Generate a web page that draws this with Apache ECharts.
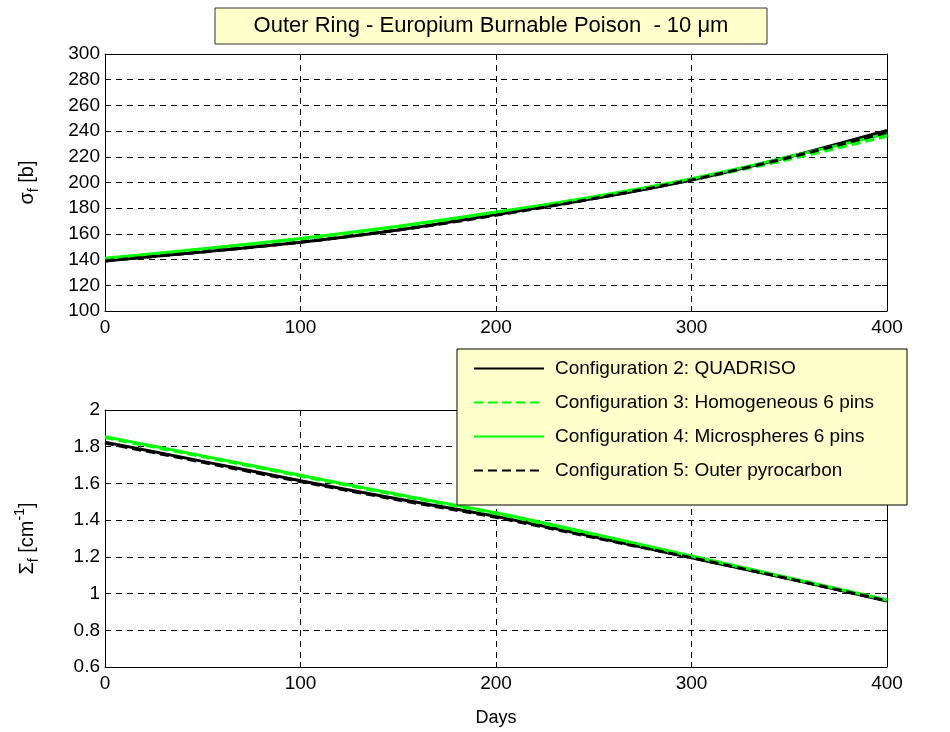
<!DOCTYPE html>
<html>
<head>
<meta charset="utf-8">
<script src="https://cdn.jsdelivr.net/npm/echarts@6/dist/echarts.min.js"></script>
<style>
html, body { margin: 0; padding: 0; background: #fff; }
#chart { width: 950px; height: 732px; }
</style>
</head>
<body>
<div id="chart"></div>
<script>
// Burnup time steps (days)
const days = [0, 50, 100, 150, 200, 250, 300, 350, 400];

// Microscopic fission cross section sigma_f [b]
const sigmaQuadriso    = [139.0, 146.0, 153.5, 163.0, 175.0, 187.5, 202.0, 220.0, 240.5];
const sigmaHomogeneous = [140.5, 148.0, 156.0, 165.5, 176.5, 188.5, 202.0, 218.0, 236.0];
const sigmaMicrosphere = [141.0, 148.5, 156.5, 166.0, 177.0, 189.0, 203.0, 220.0, 238.0];
const sigmaPyrocarbon  = [139.0, 146.0, 153.5, 163.0, 174.5, 187.5, 202.0, 219.5, 239.0];

// Macroscopic fission cross section Sigma_f [cm^-1]
const macroQuadriso    = [1.825, 1.720, 1.615, 1.515, 1.420, 1.310, 1.195, 1.080, 0.960];
const macroHomogeneous = [1.850, 1.745, 1.640, 1.535, 1.435, 1.320, 1.200, 1.085, 0.965];
const macroMicrosphere = [1.855, 1.750, 1.645, 1.540, 1.440, 1.325, 1.205, 1.085, 0.965];
const macroPyrocarbon  = [1.820, 1.715, 1.610, 1.510, 1.415, 1.305, 1.195, 1.080, 0.960];

const seriesNames = [
  'Configuration 2: QUADRISO',
  'Configuration 3: Homogeneous 6 pins',
  'Configuration 4: Microspheres 6 pins',
  'Configuration 5: Outer pyrocarbon'
];

const dayTicks = { min: 0, max: 400, interval: 100 };
const sigmaTicks = { min: 100, max: 300, interval: 20 };
const macroTicks = { min: 0.6, max: 2.0, interval: 0.2 };

const FONT = 'Liberation Sans, Arial, sans-serif';
const TICK_SIZE = 19;
const styles = [
  { color: '#000000', type: 'solid' },
  { color: '#00ff00', type: [9, 5] },
  { color: '#00ff00', type: 'solid' },
  { color: '#000000', type: [9, 5] }
];

function pairs(xs, ys) { return xs.map((x, i) => [x, ys[i]]); }

function makeX(grid, ticks, pos, labels) {
  return {
    type: 'value', gridIndex: grid, position: pos,
    min: ticks.min, max: ticks.max, interval: ticks.interval,
    axisLine: { show: true, onZero: false, lineStyle: { color: '#000', width: 1 } },
    axisTick: { show: true, inside: true, length: 5, lineStyle: { color: '#000' } },
    axisLabel: { show: labels, color: '#000', fontSize: TICK_SIZE, fontFamily: FONT, margin: 7 },
    splitLine: { show: labels, lineStyle: { color: '#000', type: [6, 5], width: 1 } }
  };
}
function makeY(grid, ticks, pos, labels) {
  return {
    type: 'value', gridIndex: grid, position: pos,
    min: ticks.min, max: ticks.max, interval: ticks.interval,
    axisLine: { show: true, onZero: false, lineStyle: { color: '#000', width: 1 } },
    axisTick: { show: true, inside: true, length: 5, lineStyle: { color: '#000' } },
    axisLabel: { show: labels, color: '#000', fontSize: TICK_SIZE, fontFamily: FONT, margin: 5 },
    splitLine: { show: labels, lineStyle: { color: '#000', type: [6, 5], width: 1 } }
  };
}

const nameRich = {
  b: { fontSize: 20, lineHeight: 28, verticalAlign: 'middle', fontFamily: FONT, color: '#000' },
  s: { fontSize: 14, lineHeight: 14, verticalAlign: 'bottom', fontFamily: FONT, color: '#000' },
  p: { fontSize: 14, lineHeight: 14, verticalAlign: 'top', fontFamily: FONT, color: '#000' }
};

const xAxes = [
  makeX(0, dayTicks, 'bottom', true),
  makeX(0, dayTicks, 'top', false),
  Object.assign(makeX(1, dayTicks, 'bottom', true), {
    name: 'Days', nameLocation: 'middle', nameGap: 42,
    nameTextStyle: { color: '#000', fontSize: 18, fontFamily: FONT }
  }),
  makeX(1, dayTicks, 'top', false)
];

const yAxes = [
  Object.assign(makeY(0, sigmaTicks, 'left', true), {
    name: '{b|σ}{s|f}{b| [b]}', nameLocation: 'middle', nameGap: 64, nameRotate: 90,
    nameTextStyle: { color: '#000', fontFamily: FONT, rich: nameRich }
  }),
  makeY(0, sigmaTicks, 'right', false),
  Object.assign(makeY(1, macroTicks, 'left', true), {
    name: '{b|Σ}{s|f}{b| [cm}{p|-1}{b|]}', nameLocation: 'middle', nameGap: 64, nameRotate: 90,
    nameTextStyle: { color: '#000', fontFamily: FONT, rich: nameRich }
  }),
  makeY(1, macroTicks, 'right', false)
];

const topSets = [sigmaQuadriso, sigmaHomogeneous, sigmaMicrosphere, sigmaPyrocarbon];
const bottomSets = [macroQuadriso, macroHomogeneous, macroMicrosphere, macroPyrocarbon];

const series = [];
function addSeries(sets, axisIdx) {
  sets.forEach((vals, i) => {
    series.push({
      name: seriesNames[i], type: 'line', xAxisIndex: axisIdx, yAxisIndex: axisIdx,
      data: pairs(days, vals), smooth: 0.3, showSymbol: false, symbol: 'none',
      lineStyle: { color: styles[i].color, type: styles[i].type, width: 3 },
      itemStyle: { color: styles[i].color }, z: 2 + i, animation: false
    });
  });
}
addSeries(topSets, 0);
addSeries(bottomSets, 2);

const chart = echarts.init(document.getElementById('chart'), null, { renderer: 'canvas' });
chart.setOption({
  backgroundColor: '#ffffff',
  animation: false,
  grid: [
    { left: 105, top: 54, width: 782, height: 257 },
    { left: 105, top: 410, width: 782, height: 257 }
  ],
  xAxis: xAxes,
  yAxis: yAxes,
  series: series,
  legend: {
    orient: 'vertical', left: 468, top: 354, z: 20,
    itemWidth: 70, itemHeight: 14, itemGap: 15,
    itemStyle: { color: 'transparent', borderColor: 'transparent', borderWidth: 0, opacity: 0 },
    data: seriesNames,
    textStyle: { color: '#000', fontSize: 19, fontFamily: FONT, padding: [0, 0, 0, 6] }
  },
  graphic: [
    {
      type: 'rect', z: 15, silent: true,
      shape: { x: 457, y: 349, width: 450, height: 156 },
      style: { fill: '#ffffcc', stroke: '#000', lineWidth: 1 }
    },
    {
      type: 'rect', z: 15, silent: true,
      shape: { x: 215, y: 8, width: 552, height: 36 },
      style: { fill: '#ffffcc', stroke: '#333', lineWidth: 1 }
    },
    {
      type: 'text', z: 16, silent: true,
      x: 491, y: 26,
      style: {
        text: 'Outer Ring - Europium Burnable Poison  - 10 μm',
        font: '22px ' + FONT, fill: '#000',
        align: 'center', verticalAlign: 'middle'
      }
    }
  ]
});
</script>
</body>
</html>
